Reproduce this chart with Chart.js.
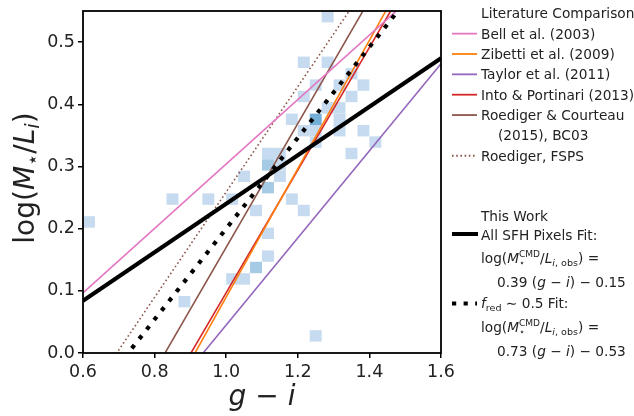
<!DOCTYPE html>
<html>
<head>
<meta charset="utf-8">
<script src="https://cdn.jsdelivr.net/npm/chart.js@4.4.1/dist/chart.umd.min.js"></script>
<style>
  html, body { margin: 0; padding: 0; background: #fff; }
  #wrap { width: 634px; height: 416px; }
</style>
</head>
<body>
<div id="wrap"><canvas id="mlChart" width="634" height="416"></canvas></div>
<script>
// axis ticks
const xTickValues = [0.6, 0.8, 1.0, 1.2, 1.4, 1.6];
const yTickValues = [0.0, 0.1, 0.2, 0.3, 0.4, 0.5];
const yMax = 0.55;

// literature colour relations: log(M/L_i) = slope * (g - i) + intercept
const litNames = [
  "Bell et al. (2003)",
  "Zibetti et al. (2009)",
  "Taylor et al. (2011)",
  "Into & Portinari (2013)",
  "Roediger & Courteau\n(2015), BC03",
  "Roediger, FSPS"
];
const litSlopes = [0.518, 1.032, 0.70, 0.986, 0.995, 0.847];
const litIntercepts = [-0.214, -0.942, -0.655, -0.889, -0.825, -0.588];

// fits from this work
const fitNames = ["All SFH Pixels Fit:", "Fit:"];
const fitSlopes = [0.39, 0.73];
const fitIntercepts = [-0.15, -0.53];

// 2D histogram of the SFH pixels, 30 x 30 bins over the plotted range
const histBinsX = 30, histRangeX = [0.6, 1.6];
const histBinsY = 30, histRangeY = [0.0, 0.55];
const histBinX  = [0, 7, 8, 10, 12, 12, 13, 14, 15, 15, 14, 17, 18, 19,
                   13, 15, 16, 15, 16, 15, 16,
                   19, 17, 18, 19, 19, 20, 21, 21, 21, 23, 22, 24,
                   18, 22, 19, 21, 23, 22, 18, 20, 20];
const histBinY  = [11, 13, 4, 13, 13, 6, 6, 7, 8, 10, 12, 13, 12, 1,
                   15, 14, 15, 16, 16, 17, 17,
                   18, 20, 19, 19, 20, 21, 21, 20, 19, 19, 17, 18,
                   22, 22, 23, 23, 23, 24, 25, 25, 29];
const histCount = [1, 1, 1, 1, 1, 1, 1, 2, 1, 1, 1, 1, 1, 1,
                   1, 2, 1, 2, 1, 1, 1,
                   1, 1, 1, 1, 3, 1, 1, 1, 1, 1, 1, 1,
                   1, 1, 1, 1, 1, 1, 1, 1, 1];

const litColors = ["#e377c2", "#ff7f0e", "#9467bd", "#d62728", "#8c564b", "#8c564b"];
const litDashes = [[], [], [], [], [], [1.6, 2.6]];
const blues = ["#ffffff", "#c6dbef", "#a6cbe5", "#74afd8"];

const FONT = '"DejaVu Sans"';
const TEXT = "#222";

const xEnds = [xTickValues[0], xTickValues[xTickValues.length - 1]];
const lineData = (m, b) => xEnds.map(x => ({ x: x, y: m * x + b }));

const fitDatasets = [
  {
    label: fitNames[0],
    data: lineData(fitSlopes[0], fitIntercepts[0]),
    borderColor: "#000", borderWidth: 4, order: 0
  },
  {
    label: fitNames[1],
    data: lineData(fitSlopes[1], fitIntercepts[1]),
    borderColor: "#000", borderWidth: 4.2, borderDash: [4.2, 7.8],
    borderDashOffset: 5.2, borderCapStyle: "butt", order: 1
  }
];
const litDatasets = litNames.map((name, k) => ({
  label: name,
  data: lineData(litSlopes[k], litIntercepts[k]),
  borderColor: litColors[k],
  borderWidth: 1.6,
  borderDash: litDashes[k],
  order: 10 + k
}));
const datasets = fitDatasets.concat(litDatasets).map(d =>
  Object.assign({ showLine: true, pointRadius: 0, clip: 0, fill: false }, d));

// histogram cells, drawn under the lines
const histPlugin = {
  id: "hist2d",
  beforeDatasetsDraw(chart) {
    const { ctx, chartArea: a, scales: { x, y } } = chart;
    const dx = (histRangeX[1] - histRangeX[0]) / histBinsX;
    const dy = (histRangeY[1] - histRangeY[0]) / histBinsY;
    ctx.save();
    ctx.beginPath();
    ctx.rect(a.left, a.top, a.right - a.left, a.bottom - a.top);
    ctx.clip();
    histBinX.forEach((bx, k) => {
      const by = histBinY[k];
      const x0 = x.getPixelForValue(histRangeX[0] + bx * dx);
      const x1 = x.getPixelForValue(histRangeX[0] + (bx + 1) * dx);
      const y0 = y.getPixelForValue(histRangeY[0] + by * dy);
      const y1 = y.getPixelForValue(histRangeY[0] + (by + 1) * dy);
      ctx.fillStyle = blues[Math.min(histCount[k], blues.length - 1)];
      ctx.fillRect(x0, y1, x1 - x0, y0 - y1);
    });
    ctx.restore();
  }
};

// mixed roman / italic / sub- and superscript text
function drawRuns(ctx, runs, x, y, size, measureOnly) {
  let cx = x;
  for (const r of runs) {
    const fs = size * (r.k || 1);
    ctx.font = (r.i ? "italic " : "") + fs + "px " + FONT;
    if (!measureOnly) ctx.fillText(r.t, cx, y - (r.s || 0) * size);
    if (!r.hold) cx += ctx.measureText(r.t).width;
  }
  return cx - x;
}

function mlRuns() {
  return [
    { t: "log(" }, { t: "M", i: 1 },
    { t: "\u22c6", k: 0.7, s: -0.22, hold: 1 }, { t: "CMD", k: 0.66, s: 0.42 },
    { t: "/" }, { t: "L", i: 1 },
    { t: "i", i: 1, k: 0.7, s: -0.22 }, { t: ", obs", k: 0.7, s: -0.22 },
    { t: ") =" }
  ];
}
function fitRuns(k) {
  return [
    { t: fitSlopes[k].toFixed(2) + " (" }, { t: "g", i: 1 }, { t: " \u2212 " },
    { t: "i", i: 1 },
    { t: ") " + (fitIntercepts[k] < 0 ? "\u2212 " : "+ ") + Math.abs(fitIntercepts[k]).toFixed(2) }
  ];
}

const decorPlugin = {
  id: "decor",
  afterDatasetsDraw(chart) {
    const { ctx, chartArea: a } = chart;
    ctx.save();
    ctx.strokeStyle = "#000";
    ctx.lineWidth = 1.8;
    ctx.strokeRect(a.left, a.top, a.right - a.left, a.bottom - a.top);
    ctx.restore();
  },
  afterDraw(chart) {
    const { ctx, chartArea: a } = chart;
    ctx.save();
    ctx.fillStyle = TEXT;
    ctx.textBaseline = "alphabetic";
    ctx.textAlign = "left";

    // axis titles
    const xt = [{ t: "g", i: 1 }, { t: " \u2212 " }, { t: "i", i: 1 }];
    const xw = drawRuns(ctx, xt, 0, 0, 28, true);
    drawRuns(ctx, xt, (a.left + a.right) / 2 - xw / 2, 405, 28);

    const yt = [
      { t: "log(" }, { t: "M", i: 1 }, { t: "\u22c6", k: 0.7, s: -0.18 },
      { t: "/" }, { t: "L", i: 1 }, { t: "i", i: 1, k: 0.7, s: -0.2 }, { t: ")" }
    ];
    const yw = drawRuns(ctx, yt, 0, 0, 28, true);
    ctx.save();
    ctx.translate(33.5, 178);
    ctx.rotate(-Math.PI / 2);
    drawRuns(ctx, yt, -yw / 2, 0, 28);
    ctx.restore();

    // legend: literature comparison
    const fs = 13.7, tx = 481, s0 = 452, s1 = 477, step = 20.35;
    ctx.font = fs + "px " + FONT;
    ctx.fillText("Literature Comparison", tx, 18.3);
    let row = 1;
    litNames.forEach((name, k) => {
      const base = 18.3 + step * row;
      ctx.save();
      ctx.strokeStyle = litColors[k];
      ctx.lineWidth = 1.8;
      ctx.setLineDash(litDashes[k]);
      ctx.beginPath();
      ctx.moveTo(s0, base - 5);
      ctx.lineTo(s1, base - 5);
      ctx.stroke();
      ctx.restore();
      ctx.font = fs + "px " + FONT;
      name.split("\n").forEach((line, j) => {
        ctx.fillText(line, j ? tx + 17 : tx, base + step * j);
      });
      row += name.split("\n").length;
    });

    // legend: this work
    ctx.font = fs + "px " + FONT;
    ctx.fillText("This Work", tx, 220.5);

    ctx.save();
    ctx.strokeStyle = "#000";
    ctx.lineWidth = 4;
    ctx.beginPath();
    ctx.moveTo(s0, 234);
    ctx.lineTo(s1 + 1, 234);
    ctx.stroke();
    ctx.restore();
    ctx.font = fs + "px " + FONT;
    ctx.fillText(fitNames[0], tx, 240);
    drawRuns(ctx, mlRuns(), tx, 263, fs);
    drawRuns(ctx, fitRuns(0), tx + 16, 287, fs);

    ctx.save();
    ctx.strokeStyle = "#000";
    ctx.lineWidth = 4.2;
    ctx.setLineDash([4.2, 7.4]);
    ctx.beginPath();
    ctx.moveTo(s0, 303.5);
    ctx.lineTo(s1, 303.5);
    ctx.stroke();
    ctx.restore();
    drawRuns(ctx, [
      { t: "f", i: 1 }, { t: "red", k: 0.7, s: -0.22 }, { t: " \u223c 0.5 " + fitNames[1] }
    ], tx, 308, fs);
    drawRuns(ctx, mlRuns(), tx, 332, fs);
    drawRuns(ctx, fitRuns(1), tx + 16, 356, fs);

    ctx.restore();
  }
};

const tickFont = { family: "DejaVu Sans", size: 17.5 };
const tickGrid = { drawOnChartArea: false, drawTicks: true, tickLength: 5, color: "#000", lineWidth: 1.5 };

new Chart(document.getElementById("mlChart"), {
  type: "scatter",
  data: { datasets },
  options: {
    responsive: false,
    animation: false,
    events: [],
    layout: { padding: { left: 0, top: 11, right: 193, bottom: 0 } },
    plugins: { legend: { display: false }, tooltip: { enabled: false } },
    scales: {
      x: {
        type: "linear",
        min: xTickValues[0],
        max: xTickValues[xTickValues.length - 1],
        afterBuildTicks: s => { s.ticks = xTickValues.map(v => ({ value: v })); },
        afterFit: s => { s.height = 63; s.paddingLeft = 0; s.paddingRight = 0; },
        ticks: { font: tickFont, color: TEXT, padding: 4, maxRotation: 0, autoSkip: false,
                 callback: v => v.toFixed(1) },
        grid: tickGrid,
        border: { display: false }
      },
      y: {
        type: "linear",
        min: 0,
        max: yMax,
        afterBuildTicks: s => { s.ticks = yTickValues.map(v => ({ value: v })); },
        afterFit: s => { s.width = 83; s.paddingTop = 0; s.paddingBottom = 0; },
        ticks: { font: tickFont, color: TEXT, padding: 3, autoSkip: false,
                 callback: v => v.toFixed(1) },
        grid: tickGrid,
        border: { display: false }
      }
    }
  },
  plugins: [histPlugin, decorPlugin]
});
</script>
</body>
</html>
